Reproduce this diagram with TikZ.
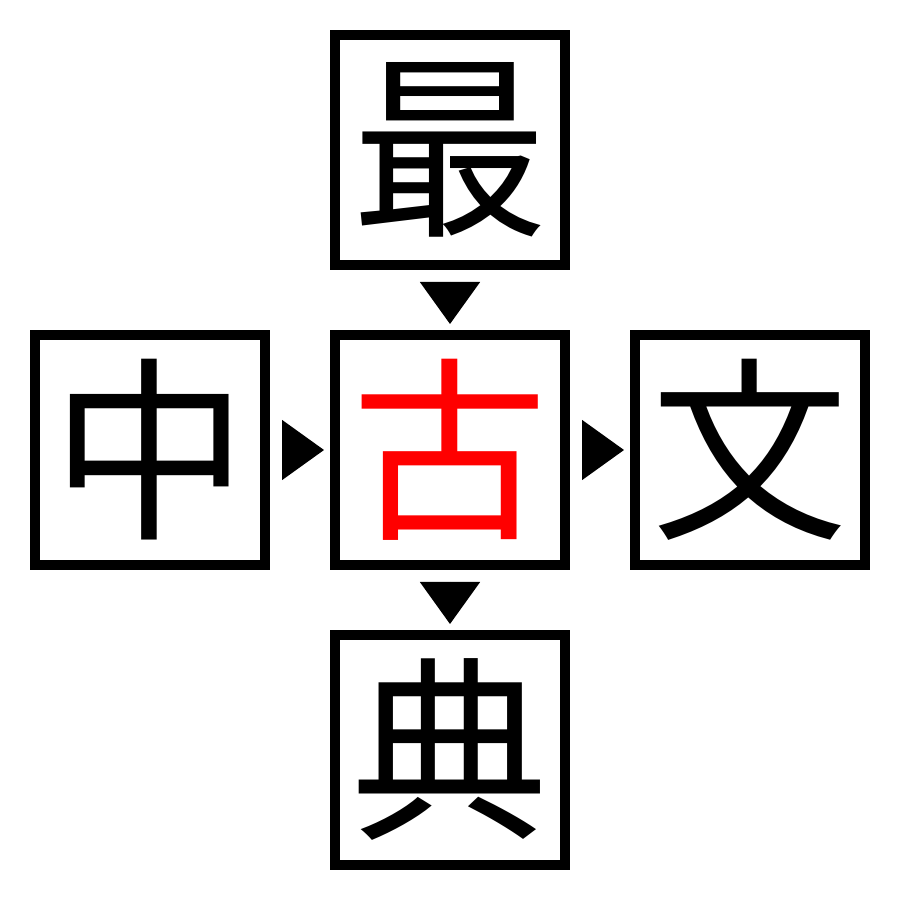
\documentclass[tikz,border=0pt]{standalone}
\usepackage{fontspec}
\newfontfamily\cjk{Noto Sans CJK JP}
\usetikzlibrary{arrows.meta}
\tikzset{
  zibox/.style={draw,line width=1mm,minimum size=2.3cm,inner sep=0pt,
    font=\cjk\fontsize{56}{56}\selectfont},
  zitri/.style={-{Triangle[length=4.2mm,width=6mm]},line width=0.4pt,
    shorten <=1.2mm,shorten >=0.6mm},
}
\begin{document}
\begin{tikzpicture}
    \useasboundingbox (0,0) rectangle (9,9);
    \node[zibox] (zui) at (4.5,7.5) {最};
    \node[zibox] (zhong) at (1.5,4.5) {中};
    \node[zibox,text=red] (gu) at (4.5,4.5) {古};
    \node[zibox] (wen) at (7.5,4.5) {文};
    \node[zibox] (dian) at (4.5,1.5) {典};
    \draw[zitri] (zui) -- (gu);
    \draw[zitri] (zhong) -- (gu);
    \draw[zitri] (gu) -- (wen);
    \draw[zitri] (gu) -- (dian);
  \end{tikzpicture}
\end{document}
